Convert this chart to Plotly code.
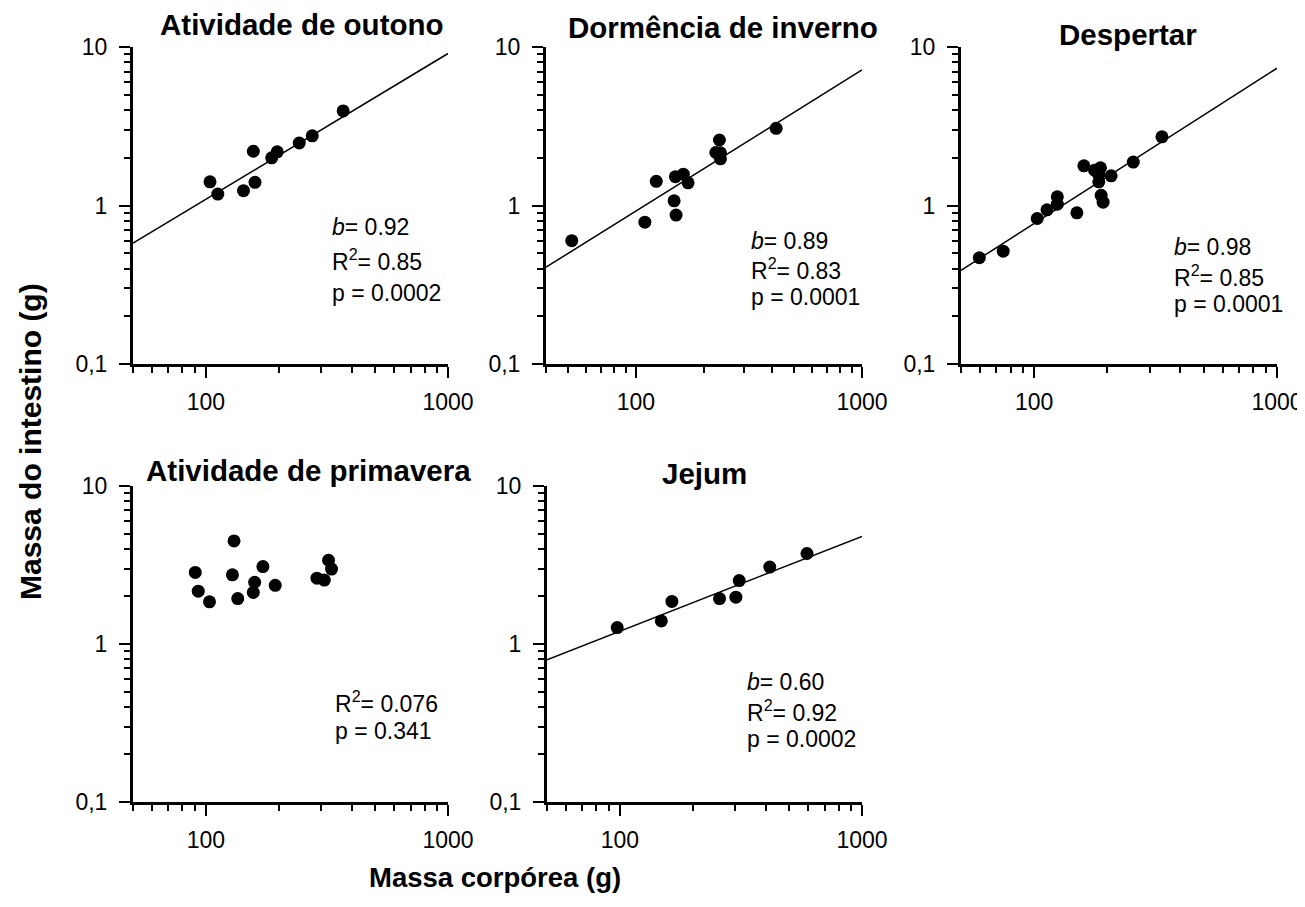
import numpy as np
import plotly.graph_objects as go

# the page body adds an 8 px margin, so the figure is drawn 8 px in from the corner
OFF = 8
W, H = 1305 - OFF, 907 - OFF
FONT = "Liberation Sans, Arial, Helvetica, sans-serif"

# ---------------- data ----------------
panel_titles = ["Atividade de outono", "Dormência de inverno", "Despertar",
                "Atividade de primavera", "Jejum"]

outono_body = [104, 112, 143, 157, 159.5, 187, 197, 243, 275, 369]
outono_gut = [1.41, 1.18, 1.24, 2.20, 1.40, 2.00, 2.18, 2.48, 2.75, 3.95]

inverno_body = [52, 109.5, 123, 147.5, 150.5, 149.5, 162, 170, 225.6, 234, 236.5, 236.5, 417]
inverno_gut = [0.60, 0.785, 1.42, 1.07, 0.87, 1.52, 1.576, 1.39, 2.16, 2.59, 2.15, 1.97, 3.07]

despertar_body = [59.5, 74.6, 103, 113, 124.6, 124.6, 150, 160.3, 177.3, 187.6, 184.6,
                  184.6, 188.8, 192.3, 207.5, 256, 336]
despertar_gut = [0.468, 0.515, 0.828, 0.939, 1.02, 1.134, 0.899, 1.78, 1.67, 1.73, 1.57,
                 1.41, 1.16, 1.05, 1.54, 1.88, 2.71]

primavera_body = [90.4, 93, 103.5, 130.7, 128.7, 135.4, 157, 159, 172, 193.4, 287.6,
                  308.4, 321, 330.5]
primavera_gut = [2.84, 2.16, 1.85, 4.49, 2.74, 1.94, 2.12, 2.46, 3.09, 2.35, 2.61,
                 2.54, 3.39, 2.98]

jejum_body = [97.5, 148.3, 164, 258, 301.4, 311, 416, 592.6]
jejum_gut = [1.27, 1.40, 1.86, 1.94, 1.98, 2.52, 3.07, 3.74]

# allometric fits: log10(gut) = log_a + b * log10(body); None = no fitted line
fit_b = [0.92, 0.89, 0.98, None, 0.60]
fit_log_a = [-1.801, -1.815, -2.074, None, -1.119]

stat_b = ["0.92", "0.89", "0.98", None, "0.60"]
stat_r2 = ["0.85", "0.83", "0.85", "0.076", "0.92"]
stat_p = ["0.0002", "0.0001", "0.0001", "0.341", "0.0002"]

x_min = [50, 40, 50, 50, 50]
x_max = 1000
y_range = [0.1, 10]

y_tickvals = [0.1, 1, 10]
y_ticktext = ["0,1", "1", "10"]
x_tickvals = [100, 1000]
x_ticktext = ["100", "1000"]
x_minor = [40, 50, 60, 70, 80, 90, 200, 300, 400, 500, 600, 700, 800, 900]
y_minor = [0.2, 0.3, 0.4, 0.5, 0.6, 0.7, 0.8, 0.9, 2, 3, 4, 5, 6, 7, 8, 9]

bodies = [outono_body, inverno_body, despertar_body, primavera_body, jejum_body]
guts = [outono_gut, inverno_gut, despertar_gut, primavera_gut, jejum_gut]

# ---------------- layout (pixel geometry, screen coordinates) ----------------
# plot-area boxes in pixels: (left, right, top, bottom)
boxes = [
    (133, 448, 47, 364),
    (546, 862, 47, 364),
    (961, 1277, 47, 364),
    (133, 448, 486, 802),
    (547, 862, 486, 802),
]
title_pos = [(302, 24), (723, 28), (1128, 34), (308, 470), (704, 473)]
stat_pos = [
    (330, [227, 260, 293]),
    (749, [241, 269, 297]),
    (1172, [247, 276, 304]),
    (333, [None, 702, 731]),
    (745, [682, 711, 739]),
]


def px(x):
    return (x - OFF) / W


def py(y):
    return 1 - (y - OFF) / H


fig = go.Figure()
layout = dict(
    template="none",
    width=W, height=H, autosize=False,
    margin=dict(l=0, r=0, t=0, b=0, pad=0, autoexpand=False),
    paper_bgcolor="white", plot_bgcolor="white",
    showlegend=False,
    font=dict(family=FONT, size=23, color="black"),
)
annotations = []

for i in range(5):
    n = "" if i == 0 else str(i + 1)
    xa, ya = "x" + n, "y" + n
    L, R, T, B = boxes[i]

    fig.add_trace(go.Scatter(
        x=bodies[i], y=guts[i], mode="markers", xaxis=xa, yaxis=ya,
        marker=dict(color="black", size=13, line=dict(width=0)),
        cliponaxis=False, hoverinfo="x+y"))

    if fit_b[i] is not None:
        xs = np.array([x_min[i], x_max], dtype=float)
        ys = 10 ** (fit_log_a[i] + fit_b[i] * np.log10(xs))
        fig.add_trace(go.Scatter(
            x=xs, y=ys, mode="lines", xaxis=xa, yaxis=ya,
            line=dict(color="black", width=1.5), hoverinfo="skip"))

    layout["xaxis" + n] = dict(
        type="log", domain=[px(L), px(R)], anchor=ya, automargin=False,
        range=[np.log10(x_min[i]), np.log10(x_max)],
        showgrid=False, zeroline=False,
        showline=True, linecolor="black", linewidth=3,
        ticks="outside", ticklen=11, tickwidth=1.5, tickcolor="black",
        tickmode="array", tickvals=x_tickvals, ticktext=x_ticktext,
        tickfont=dict(family=FONT, size=23, color="black"),
        ticklabelstandoff=4,
        minor=dict(ticks="outside", ticklen=6, tickwidth=1.5, tickcolor="black",
                   tickmode="array", tickvals=x_minor, showgrid=False),
        fixedrange=True,
    )
    layout["yaxis" + n] = dict(
        type="log", domain=[py(B), py(T)], anchor=xa, automargin=False,
        range=[np.log10(y_range[0]), np.log10(y_range[1])],
        showgrid=False, zeroline=False,
        showline=True, linecolor="black", linewidth=3,
        ticks="outside", ticklen=11, tickwidth=1.5, tickcolor="black",
        tickmode="array", tickvals=y_tickvals, ticktext=y_ticktext,
        tickfont=dict(family=FONT, size=23, color="black"),
        ticklabelstandoff=7,
        minor=dict(ticks="outside", ticklen=6, tickwidth=1.5, tickcolor="black",
                   tickmode="array", tickvals=y_minor, showgrid=False),
        fixedrange=True,
    )

    tx, ty = title_pos[i]
    annotations.append(dict(
        text="<b>" + panel_titles[i] + "</b>", x=px(tx), y=py(ty),
        xref="paper", yref="paper", xanchor="center", yanchor="middle",
        showarrow=False, font=dict(family=FONT, size=29.5, color="black")))

    sx, sys_ = stat_pos[i]
    lines = []
    if stat_b[i] is not None:
        lines.append(("<i>b</i>= " + stat_b[i], sys_[0]))
    lines.append(("R<sup>2</sup>= " + stat_r2[i], sys_[1]))
    lines.append(("p = " + stat_p[i], sys_[2]))
    for txt, yy in lines:
        annotations.append(dict(
            text=txt, x=px(sx), y=py(yy), xref="paper", yref="paper",
            xanchor="left", yanchor="middle", showarrow=False,
            font=dict(family=FONT, size=23, color="black")))

annotations.append(dict(
    text="<b>Massa do intestino (g)</b>", x=px(30), y=py(442),
    xref="paper", yref="paper", xanchor="center", yanchor="middle",
    textangle=-90, showarrow=False, font=dict(family=FONT, size=30, color="black")))
annotations.append(dict(
    text="<b>Massa corpórea (g)</b>", x=px(495), y=py(877),
    xref="paper", yref="paper", xanchor="center", yanchor="middle",
    showarrow=False, font=dict(family=FONT, size=27.5, color="black")))

layout["annotations"] = annotations
fig.update_layout(**layout)
fig.write_html("out.html")
